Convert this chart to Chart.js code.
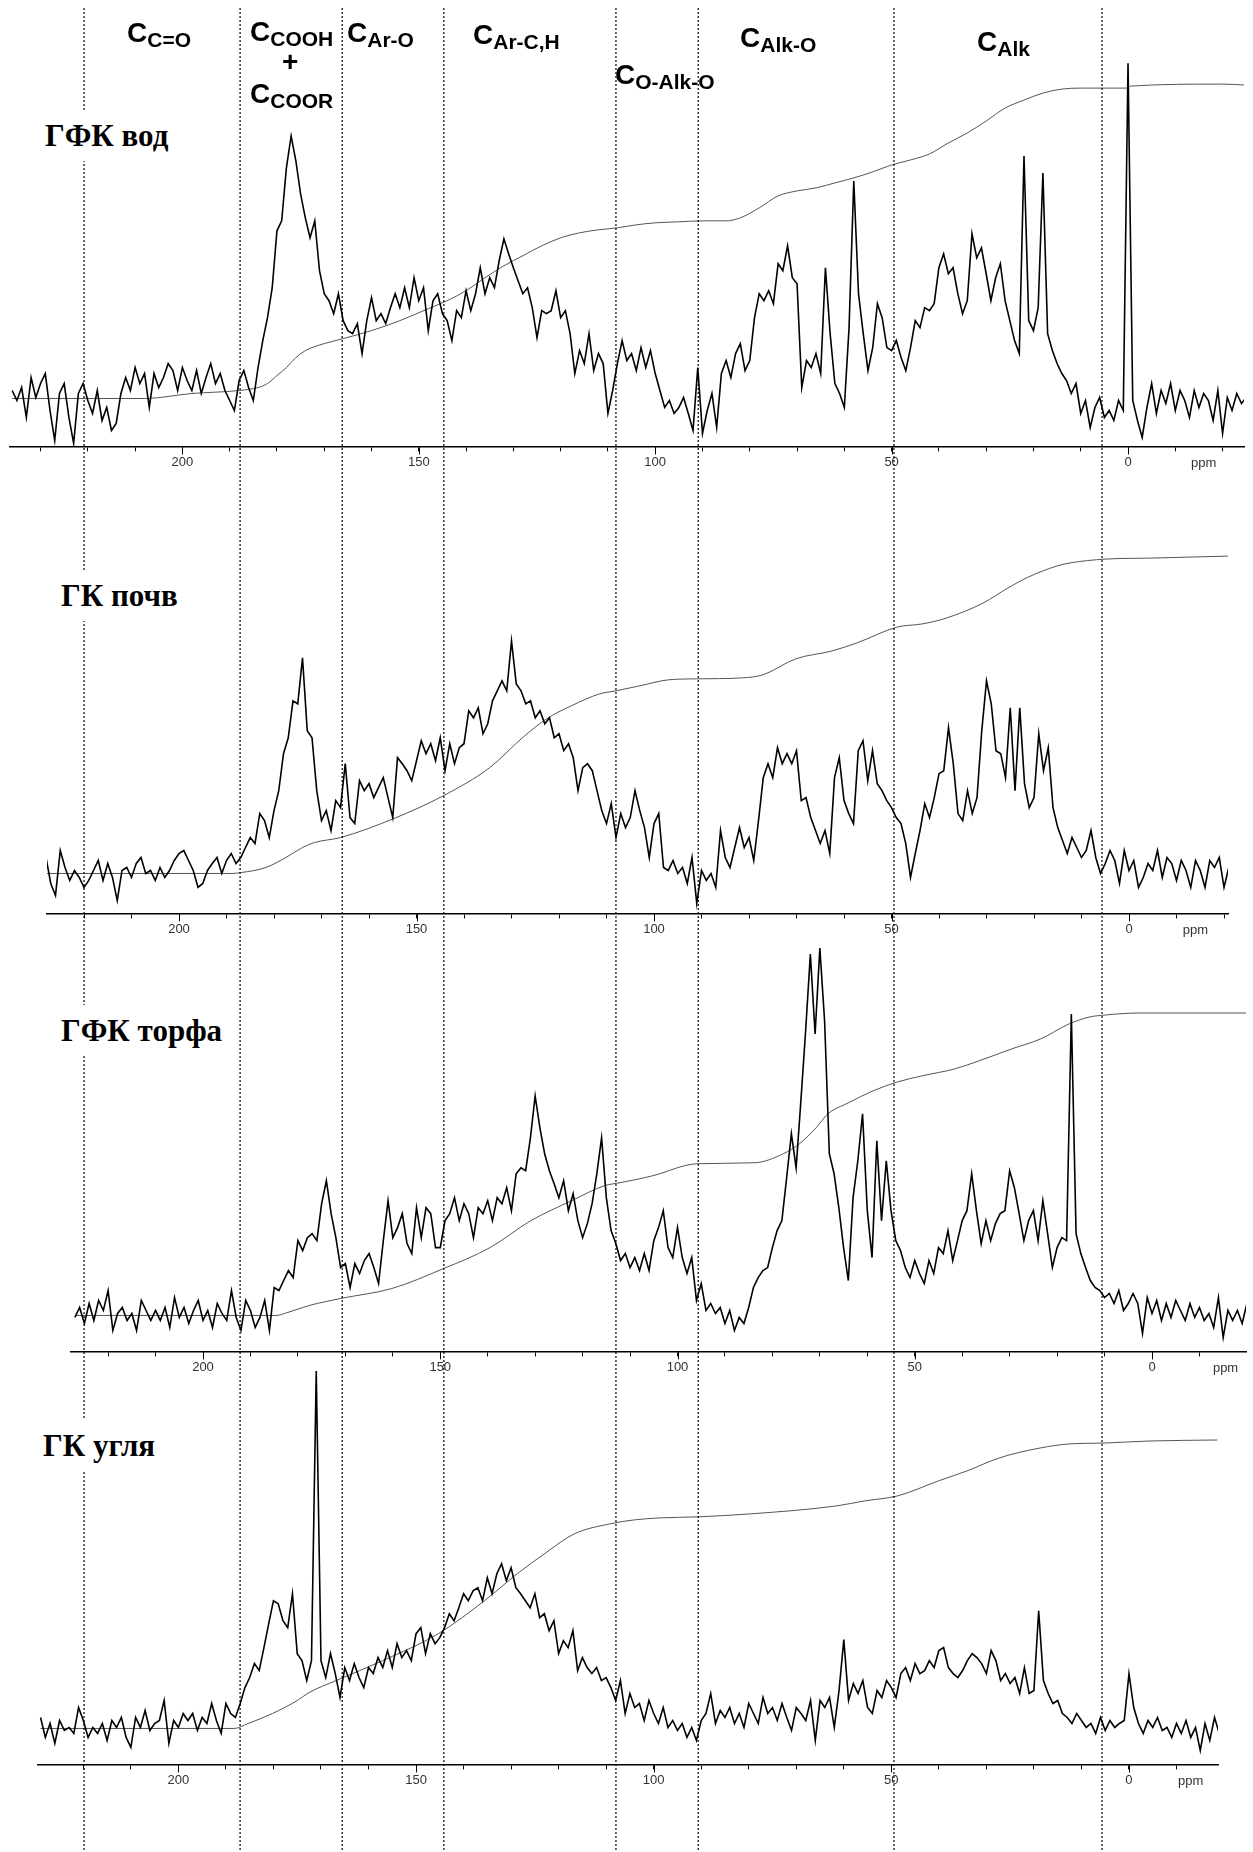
<!DOCTYPE html>
<html><head><meta charset="utf-8">
<script src="https://cdn.jsdelivr.net/npm/chart.js@4.4.1/dist/chart.umd.min.js"></script>
<style>
html,body{margin:0;padding:0;background:#fff;}
body{width:1253px;height:1852px;position:relative;overflow:hidden;}
canvas.panel{position:absolute;left:0;z-index:1;}
#overlay{position:absolute;left:0;top:0;z-index:2;pointer-events:none;}
.lab{position:absolute;font-family:"Liberation Sans",Arial,sans-serif;font-weight:bold;font-size:28px;line-height:1;white-space:nowrap;z-index:3;color:#000;}
.lab .s{font-size:21px;position:relative;top:5px;}
.plab{position:absolute;font-family:"Liberation Serif","Times New Roman",serif;font-weight:bold;font-size:31px;line-height:1;white-space:nowrap;background:#fff;padding:10px 14px;z-index:3;color:#000;}
</style></head>
<body>
<canvas id="c1" class="panel" width="1253" height="440"></canvas>
<canvas id="c2" class="panel" width="1253" height="440"></canvas>
<canvas id="c3" class="panel" width="1253" height="460"></canvas>
<canvas id="c4" class="panel" width="1253" height="460"></canvas>
<canvas id="overlay" width="1253" height="1852"></canvas>

<div class="lab" style="left:127px;top:19px">C<span class="s">C=O</span></div>
<div class="lab" style="left:250px;top:18px">C<span class="s">COOH</span></div>
<div class="lab" style="left:282px;top:48px">+</div>
<div class="lab" style="left:250px;top:80px">C<span class="s">COOR</span></div>
<div class="lab" style="left:347px;top:19px">C<span class="s">Ar-O</span></div>
<div class="lab" style="left:473px;top:21px">C<span class="s">Ar-C,H</span></div>
<div class="lab" style="left:615px;top:61px">C<span class="s">O-Alk-O</span></div>
<div class="lab" style="left:740px;top:24px">C<span class="s">Alk-O</span></div>
<div class="lab" style="left:977px;top:28px">C<span class="s">Alk</span></div>

<div class="plab" style="left:31px;top:110px">ГФК вод</div>
<div class="plab" style="left:47px;top:570px">ГК почв</div>
<div class="plab" style="left:47px;top:1005px">ГФК торфа</div>
<div class="plab" style="left:29px;top:1420px">ГК угля</div>

<script>
// ---- chemical shift grid (ppm), shared by all spectra ----
const ppmGrid = [
236,235,234,233,232,231,230,229,228,227,
226,225,224,223,222,221,220,219,218,217,
216,215,214,213,212,211,210,209,208,207,
206,205,204,203,202,201,200,199,198,197,
196,195,194,193,192,191,190,189,188,187,
186,185,184,183,182,181,180,179,178,177,
176,175,174,173,172,171,170,169,168,167,
166,165,164,163,162,161,160,159,158,157,
156,155,154,153,152,151,150,149,148,147,
146,145,144,143,142,141,140,139,138,137,
136,135,134,133,132,131,130,129,128,127,
126,125,124,123,122,121,120,119,118,117,
116,115,114,113,112,111,110,109,108,107,
106,105,104,103,102,101,100,99,98,97,
96,95,94,93,92,91,90,89,88,87,
86,85,84,83,82,81,80,79,78,77,
76,75,74,73,72,71,70,69,68,67,
66,65,64,63,62,61,60,59,58,57,
56,55,54,53,52,51,50,49,48,47,
46,45,44,43,42,41,40,39,38,37,
36,35,34,33,32,31,30,29,28,27,
26,25,24,23,22,21,20,19,18,17,
16,15,14,13,12,11,10,9,8,7,
6,5,4,3,2,1,0,-1,-2,-3,
-4,-5,-6,-7,-8,-9,-10,-11,-12,-13,
-14,-15,-16,-17,-18,-19,-20,-21,-22,-23,
-24,-25];

// ---- spectrum intensities (arbitrary units), one value per grid point ----
const specVod = [
56,46,59,29,69,49,63,73,36,6,
53,63,29,3,53,63,46,33,56,26,
39,16,23,53,69,56,79,63,73,39,
73,59,69,83,76,56,79,66,56,76,
53,69,83,63,73,56,46,36,66,76,
59,46,79,106,129,159,216,226,279,311,
286,253,229,209,226,176,153,146,133,153,
126,116,113,123,93,126,149,126,133,123,
139,153,139,159,139,169,146,159,116,146,
153,133,126,106,136,129,156,136,153,179,
153,169,159,186,208,193,179,166,153,159,
139,109,136,133,136,156,129,136,113,73,
96,83,113,76,93,83,33,56,83,106,
86,93,76,99,79,96,73,56,39,46,
33,39,49,33,16,79,13,36,53,19,
73,86,69,93,103,76,86,129,153,146,
156,143,183,176,201,169,163,59,86,79,
93,73,179,113,63,53,39,119,266,153,
113,76,99,143,129,99,96,106,89,76,
99,126,119,139,136,143,179,193,173,179,
153,133,146,213,189,199,173,146,169,183,
146,126,106,93,291,126,116,139,274,113,
96,83,73,66,53,63,33,46,19,39,
49,29,36,26,46,36,384,46,26,9,
39,63,33,56,43,63,36,56,46,29,
56,39,53,46,26,56,13,49,36,53,
43,49];

const specPochv = [
null,null,null,null,null,null,null,null,56,30,
18,63,46,33,43,36,26,33,43,53,
33,50,36,13,43,46,36,50,56,40,
43,33,46,36,43,53,60,63,53,43,
26,30,43,50,56,40,53,60,50,56,
66,76,70,100,93,76,103,123,160,176,
213,210,256,183,176,123,93,103,83,113,
106,150,96,90,133,123,130,116,126,136,
116,96,156,150,143,133,153,173,160,170,
153,176,143,170,150,166,170,203,196,206,
180,190,213,223,233,223,273,230,223,210,
213,196,203,190,196,176,180,163,170,156,
123,146,150,143,123,103,90,110,76,100,
86,96,123,103,86,56,90,100,46,43,
53,40,46,30,56,10,43,33,40,26,
83,56,46,66,86,66,76,53,93,136,
150,136,166,150,160,150,163,113,116,96,
83,70,83,60,136,156,113,100,90,163,
173,133,163,130,123,113,106,96,90,70,
36,60,83,110,96,116,140,143,186,150,
100,93,123,100,116,183,233,210,163,160,
136,206,123,206,130,106,116,180,143,166,
106,86,73,60,76,66,56,63,83,56,
40,50,63,53,30,63,43,53,26,36,
50,43,63,36,56,50,33,53,43,26,
53,43,26,53,46,56,26,46,null,null,
null,null];

const specTorf = [
null,null,null,null,null,null,null,null,null,34,
44,28,48,31,51,41,61,21,38,44,
31,38,21,51,41,31,41,31,44,24,
54,34,44,28,41,51,31,41,24,48,
38,31,61,34,21,51,41,24,34,51,
21,64,61,71,81,74,111,101,114,118,
111,148,171,138,114,84,88,64,88,78,
91,98,84,68,111,151,114,124,138,108,
98,144,114,144,138,104,104,131,138,154,
131,148,138,114,144,138,151,131,154,148,
164,141,178,184,181,214,256,224,198,181,
168,154,171,141,158,131,114,128,148,178,
214,154,121,108,91,98,84,94,81,98,
81,111,124,141,104,94,124,94,78,94,
51,68,41,48,38,44,28,41,21,34,
28,44,64,74,81,84,104,121,131,174,
218,184,251,321,398,318,404,331,198,178,
144,104,71,154,191,238,141,94,211,131,
191,141,111,101,84,74,91,78,68,91,
78,104,98,121,91,111,131,141,178,141,
108,131,111,128,138,141,181,164,138,111,
131,141,111,151,118,84,104,114,111,338,
118,98,84,71,64,61,54,58,48,61,
41,48,58,48,18,54,38,51,31,48,
34,51,41,31,48,34,44,31,38,24,
54,14,41,31,41,28,48,null,null,null,
null,null];

const specUgol = [
null,null,null,null,null,null,null,47,27,41,
21,44,34,37,31,57,44,27,37,31,
41,24,44,37,47,27,17,47,37,54,
34,41,44,64,21,44,37,51,44,51,
34,47,41,61,44,31,61,51,47,61,
77,87,101,94,117,141,164,161,144,137,
171,111,104,84,104,394,104,87,111,91,
67,97,84,101,87,77,97,91,107,97,
114,97,121,107,114,104,131,137,111,131,
121,127,137,151,144,157,171,164,174,177,
164,187,171,191,201,184,197,177,171,164,
157,171,147,151,134,144,111,124,117,134,
94,107,97,91,97,84,87,77,64,84,
51,71,57,61,44,64,51,41,57,37,
44,34,41,27,37,24,44,51,71,41,
54,47,57,41,51,37,61,51,41,67,
51,57,44,61,47,34,57,51,44,64,
24,64,57,67,37,74,125,64,81,71,
84,57,51,74,67,84,77,67,91,97,
84,101,91,94,104,97,114,117,97,91,
87,94,104,111,107,101,91,114,104,84,
91,81,87,71,97,71,74,154,84,71,
61,64,51,47,41,51,44,37,41,31,
47,34,44,37,41,44,91,57,41,31,
44,37,47,34,37,27,41,31,44,27,
37,14,41,24,47,31,null,null,null,null,
null,null];

// ---- integral curves ----
const integPpmVod = [236,208,198,188,184,182,180,178,176,174,172,170,166,160,154,148,144,140,136,132,128,124,120,116,112,108,104,100,95,90,85,82,78,74,70,66,62,58,54,50,46,42,38,34,30,26,22,18,14,10,0.5,-0.5,-20,-25];
const integVod = [48,48,53,56,59,63,71,79,89,96,100,103,108,116,126,138,146,156,169,181,191,201,209,214,217,219,222,224,225,226,226,229,239,251,256,259,264,269,275,282,287,293,304,314,326,339,347,354,358,359,359,361,363,362];

const integPpmPochv = [228,189,186.8,181.7,177.5,174,171.5,166,154.8,144.3,134.6,127.7,122.6,117.4,111.4,108,103,97,91,81.4,77.1,70.2,62.5,57.3,48.7,43.6,38.4,30.7,25.5,21.2,15.2,12.6,4.9,-4.6,-21];
const integPochv = [40,40,41,46,56,66,71,76,95,118,146,176,195,208,220,223,228,234,235,236,239,255,263,271,287,290,296,311,326,337,348,351,355,356,358];

const integPpmTorf = [227,184.6,182.8,177.6,171,160.2,149.3,139.5,130.9,122.3,115.4,112.1,107.9,105.2,95.8,83.7,77.7,74.3,70.8,68.3,64,58.8,53.6,48.5,41.6,36.5,29.6,23.5,17.5,13.2,9.8,2.9,-20];
const integTorf = [36,36,38,46,53,63,83,104,131,151,166,169,173,176,188,189,198,208,224,238,249,261,270,276,283,291,303,313,328,335,337,339,339];

const integPpmUgol = [229,188.3,185.3,180.2,175,172.5,166.8,157,145.3,135.6,128.7,122.7,116.7,109.2,104,98.5,90.7,79.6,61.5,55.6,48.7,40.1,34.1,27.3,18.7,12.7,5,-4.4,-18.6];
const integUgol = [36,36,41,51,64,72,84,104,131,164,191,212,231,241,245,247,248,251,259,264,269,284,294,307,317,321,322,324,325];

// ---- region boundaries (ppm) drawn as dotted lines ----
const boundaries = [220.8, 187.8, 166.2, 144.7, 108.3, 90.9, 49.5, 5.5];

// ---- layout of the four panels ----
const panels = [
  {id:'c1', spec:specVod,   ip:integPpmVod,   iv:integVod,   xmax:236.46, xmin:-24.53, left:10, right:1244, axisY:446,  ppmAt:-16},
  {id:'c2', spec:specPochv, ip:integPpmPochv, iv:integPochv, xmax:227.79, xmin:-20.84, left:47, right:1228, axisY:913,  ppmAt:-14},
  {id:'c3', spec:specTorf,  ip:integPpmTorf,  iv:integTorf,  xmax:227.82, xmin:-19.81, left:71, right:1246, axisY:1351, ppmAt:-15.5},
  {id:'c4', spec:specUgol,  ip:integPpmUgol,  iv:integUgol,  xmax:229.54, xmin:-18.73, left:38, right:1218, axisY:1764, ppmAt:-13}
];

const axisExtras = {
  id:'axisExtras',
  afterDraw(chart, args, opts){
    const xs = chart.scales.x, ctx = chart.ctx, yb = chart.chartArea.bottom;
    ctx.save();
    ctx.strokeStyle = '#000'; ctx.lineWidth = 1;
    xs.ticks.forEach(t => {
      if (Math.round(t.value) % 50 === 0) {
        const x = Math.round(xs.getPixelForValue(t.value)) + 0.5;
        ctx.beginPath(); ctx.moveTo(x, yb); ctx.lineTo(x, yb + 8); ctx.stroke();
      }
    });
    if (opts.at !== undefined) {
      ctx.font = '13px "Liberation Sans", Arial, sans-serif';
      ctx.fillStyle = '#333';
      ctx.textAlign = 'center';
      ctx.textBaseline = 'top';
      ctx.fillText('ppm', xs.getPixelForValue(opts.at), yb + 11);
    }
    ctx.restore();
  }
};

panels.forEach(p => {
  const canvas = document.getElementById(p.id);
  const chart = new Chart(canvas, {
    type:'line',
    data:{datasets:[
      {data: ppmGrid.map((v,i)=>({x:v, y:p.spec[i]})), borderColor:'#000', borderWidth:1.6, pointRadius:0, tension:0, spanGaps:false},
      {data: p.ip.map((v,i)=>({x:v, y:p.iv[i]})), borderColor:'#555', borderWidth:1, pointRadius:0, cubicInterpolationMode:'monotone'}
    ]},
    plugins:[axisExtras],
    options:{
      responsive:false, animation:false, events:[],
      layout:{padding:{left:p.left, right:1253-p.right, top:0, bottom:0}},
      plugins:{legend:{display:false}, tooltip:{enabled:false}, axisExtras:{at:p.ppmAt}},
      scales:{
        x:{type:'linear', reverse:true, min:p.xmin, max:p.xmax,
           border:{display:true, color:'#000', width:1.5},
           grid:{display:true, drawOnChartArea:false, drawTicks:true, tickLength:5, color:'#000', lineWidth:1},
           ticks:{stepSize:10, autoSkip:false, includeBounds:false, maxRotation:0, minRotation:0, padding:3,
                  color:'#333', font:{family:'"Liberation Sans", Arial, sans-serif', size:13},
                  callback:(v)=> (Math.round(v)%50===0 ? String(Math.round(v)) : '')}},
        y:{type:'linear', display:false, min:0, max:400}
      }
    }
  });
  const ca = chart.chartArea;
  chart.options.scales.y.max = ca.bottom - ca.top;
  chart.update('none');
  canvas.style.top = (p.axisY - chart.chartArea.bottom) + 'px';
});

// ---- overlay with dotted region boundaries ----
new Chart(document.getElementById('overlay'), {
  type:'line',
  data:{datasets: boundaries.map(b => ({
    data:[{x:b, y:8},{x:b, y:1852}], borderColor:'#000', borderWidth:1.2, borderDash:[2,2], pointRadius:0
  }))},
  options:{
    responsive:false, animation:false, events:[],
    layout:{padding:0},
    plugins:{legend:{display:false}, tooltip:{enabled:false}},
    scales:{
      x:{type:'linear', display:false, reverse:true, min:-26.44, max:238.58},
      y:{type:'linear', display:false, reverse:true, min:0, max:1852}
    }
  }
});
</script>
</body></html>
